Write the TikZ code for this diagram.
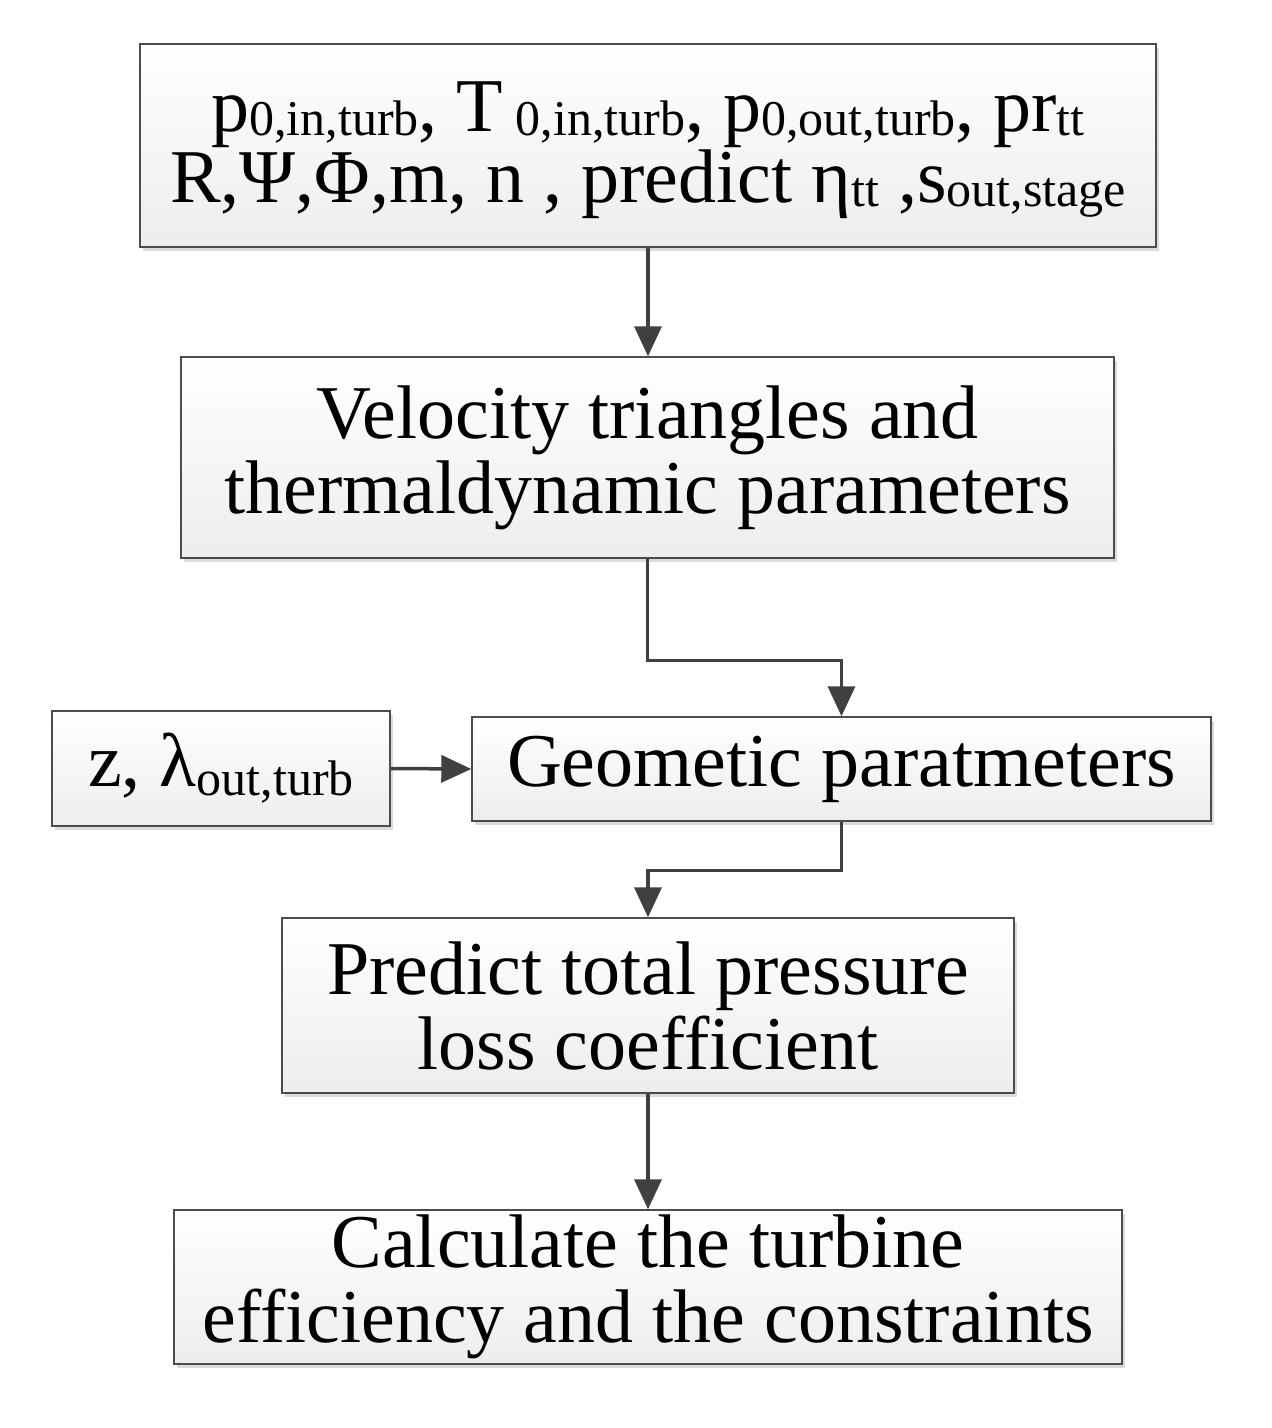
\documentclass[tikz,border=0pt]{standalone}
\usepackage{fontspec}
\setmainfont{Liberation Serif}
\usetikzlibrary{arrows.meta,shadows}
\newcommand\sbx[1]{\raisebox{-4pt}{\fontsize{50}{50}\selectfont #1}}
\newcommand\sby[1]{\raisebox{-9pt}{\fontsize{50}{50}\selectfont #1}}
\begin{document}
\begin{tikzpicture}[x=1pt,y=-1pt,
  box/.style={draw=gray!60!black, line width=1.4pt, top color=white, bottom color=gray!14,
    drop shadow={shadow xshift=3pt, shadow yshift=-4pt, fill=gray!55},
    inner sep=0pt, align=center, text=black},
  big/.style={font=\fontsize{76}{75}\selectfont},
  arr/.style={draw=black!75, line width=3.5pt, -{Triangle[length=30pt,width=27pt]}}]
\useasboundingbox (0,0) rectangle (1272,1428);
\fill[white] (0,0) rectangle (1272,1428);
\node[box, minimum width=1016pt, minimum height=203pt, font=\fontsize{76}{71}\selectfont] (b1) at (648,145.5)
 {\rule{0pt}{60pt}p\sbx{0,in,turb}, T\,\sbx{0,in,turb}, p\sbx{0,out,turb}, pr\sbx{tt}\\
  R,Ψ,Φ,m, n , predict η\sbx{tt} ,s\sbx{out,stage}};
\node[box, big, minimum width=933pt, minimum height=201pt] (b2) at (647.5,457.5)
 {Velocity triangles and\\thermaldynamic parameters};
\node[box, big, minimum width=338pt, minimum height=115pt] (b3) at (221,768.5)
 {z, λ\sby{out,turb}};
\node[box, big, minimum width=739pt, minimum height=104pt] (b4) at (841.5,769)
 {Geometic paratmeters};
\node[box, big, minimum width=732pt, minimum height=175pt] (b5) at (648,1005.5)
 {Predict total pressure\\loss coefficient};
\node[box, big, minimum width=948pt, minimum height=154pt] (b6) at (648,1287)
 {Calculate the turbine\\efficiency and the constraints};
\draw[arr] (b1.south) -- (b1.south |- b2.north);
\draw[arr] (b2.south) -- ++(0,102) -| (b4.north);
\draw[arr] (b3.east) -- (b4.west);
\draw[arr] (b4.south) -- ++(0,49) -| (b5.north);
\draw[arr] (b5.south) -- (b6.north);
\end{tikzpicture}
\end{document}
